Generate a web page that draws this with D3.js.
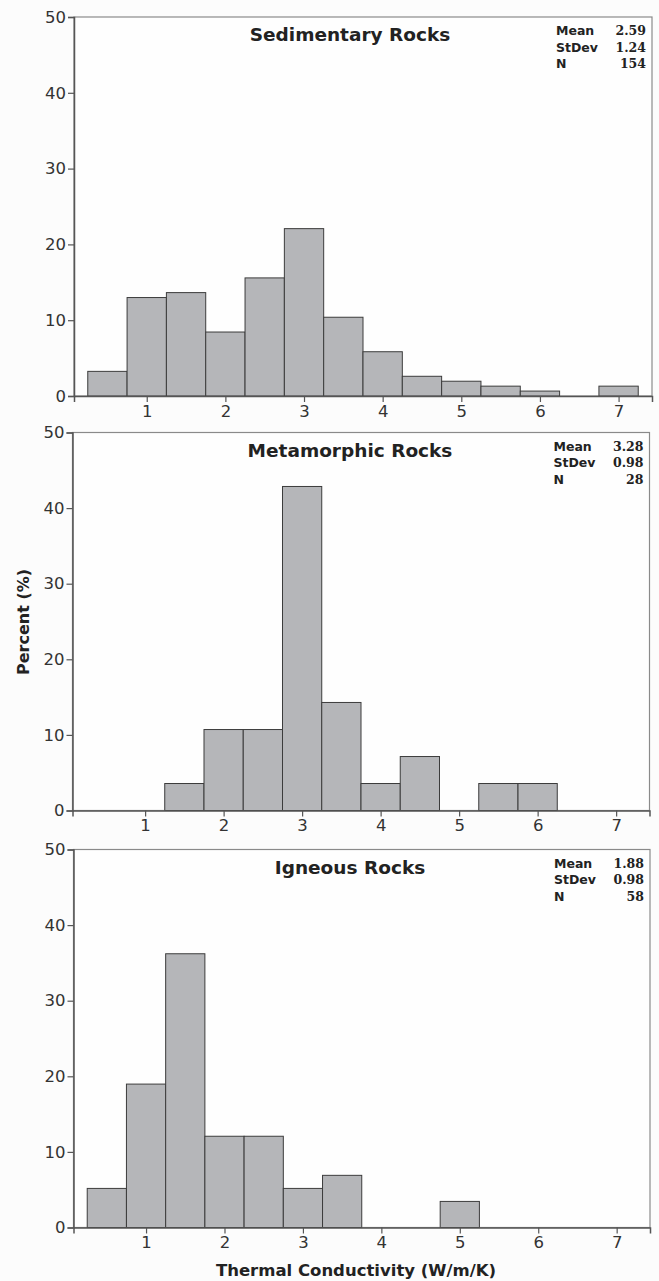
<!DOCTYPE html>
<html>
<head>
<meta charset="utf-8">
<script src="https://cdn.jsdelivr.net/npm/d3@7"></script>
<style>
  body { margin: 0; background: #fcfcfc; }
  svg { display: block; }
</style>
</head>
<body>
<div id="chart"></div>
<script>
// Bin centres (W/m/K), each bin 0.5 wide
const binCenters = [0.5, 1.0, 1.5, 2.0, 2.5, 3.0, 3.5, 4.0, 4.5, 5.0, 5.5, 6.0, 6.5, 7.0];

// Percent per bin
const sedimentary = [3.25, 12.99, 13.64, 8.44, 15.58, 22.08, 10.39, 5.84, 2.60, 1.95, 1.30, 0.65, 0, 1.30];
const metamorphic = [0, 0, 3.57, 10.71, 10.71, 42.86, 14.29, 3.57, 7.14, 0, 3.57, 3.57, 0, 0];
const igneous = [5.17, 18.97, 36.21, 12.07, 12.07, 5.17, 6.90, 0, 0, 3.45, 0, 0, 0, 0];

const titles = ["Sedimentary Rocks", "Metamorphic Rocks", "Igneous Rocks"];
const statLabels = ["Mean", "StDev", "N"];
const statValues = [["2.59", "1.24", "154"], ["3.28", "0.98", "28"], ["1.88", "0.98", "58"]];

const xTicks = [1, 2, 3, 4, 5, 6, 7];
const yTicks = [0, 10, 20, 30, 40, 50];

const width = 659;
const height = 1281;

// where each panel sits on the page
const panels = [
    { left: 74, right: 652, top: 17, bottom: 396 },
    { left: 72.5, right: 649.5, top: 432.5, bottom: 810.5 },
    { left: 73.5, right: 650, top: 849.5, bottom: 1227.5 }
];
const seriesList = [sedimentary, metamorphic, igneous];

const svg = d3.select("#chart")
    .append("svg")
    .attr("width", width)
    .attr("height", height);

svg.append("rect")
    .attr("width", width)
    .attr("height", height)
    .attr("fill", "#fcfcfc");

const textColor = "#333";
const sans = "'DejaVu Sans', Verdana, sans-serif";

panels.forEach((p, i) => {
    const x = d3.scaleLinear().domain([0.075, 7.425]).range([p.left, p.right]);
    const y = d3.scaleLinear().domain([0, 50]).range([p.bottom, p.top]);
    const g = svg.append("g");

    // plot frame (top and right are lighter)
    g.append("rect")
        .attr("x", p.left)
        .attr("y", p.top)
        .attr("width", p.right - p.left)
        .attr("height", p.bottom - p.top)
        .attr("fill", "#fefefe")
        .attr("stroke", "#8a8a8a")
        .attr("stroke-width", 1.2);

    // bars
    const data = binCenters.map((c, k) => ({ c: c, v: seriesList[i][k] })).filter(d => d.v > 0);
    g.selectAll("rect.bar")
        .data(data)
        .join("rect")
        .attr("class", "bar")
        .attr("x", d => x(d.c - 0.25))
        .attr("y", d => y(d.v))
        .attr("width", d => x(d.c + 0.25) - x(d.c - 0.25))
        .attr("height", d => y(0) - y(d.v))
        .attr("fill", "#b5b6b9")
        .attr("stroke", "#3c3c3c")
        .attr("stroke-width", 1);

    // axes
    const xAxis = g.append("g")
        .attr("transform", `translate(0,${p.bottom})`)
        .call(d3.axisBottom(x).tickValues(xTicks).tickSizeOuter(0).tickSize(6).tickPadding(3));
    const yAxis = g.append("g")
        .attr("transform", `translate(${p.left},0)`)
        .call(d3.axisLeft(y).tickValues(yTicks).tickSizeOuter(0).tickSize(6).tickPadding(2));

    [xAxis, yAxis].forEach(a => {
        a.select(".domain").attr("stroke", "#555").attr("stroke-width", 1.5);
        a.selectAll(".tick line").attr("stroke", "#555").attr("stroke-width", 1.2);
        a.selectAll(".tick text")
            .attr("fill", textColor)
            .style("font-family", sans)
            .style("font-size", "16.5px");
    });

    // title
    g.append("text")
        .attr("x", 350)
        .attr("y", p.top + 24)
        .attr("text-anchor", "middle")
        .attr("fill", "#222")
        .style("font-family", sans)
        .style("font-weight", "bold")
        .style("font-size", "18.5px")
        .text(titles[i]);

    // stats box
    statLabels.forEach((lab, k) => {
        g.append("text")
            .attr("x", p.right - 96)
            .attr("y", p.top + 18 + k * 16.5)
            .attr("fill", "#222")
            .style("font-family", sans)
            .style("font-weight", "bold")
            .style("font-size", "12.5px")
            .text(lab);
        g.append("text")
            .attr("x", p.right - 6)
            .attr("y", p.top + 18 + k * 16.5)
            .attr("text-anchor", "end")
            .attr("fill", "#222")
            .style("font-family", "'DejaVu Serif', Georgia, serif")
            .style("font-weight", "bold")
            .style("font-size", "12.5px")
            .text(statValues[i][k]);
    });
});

// y axis label
svg.append("text")
    .attr("transform", "translate(29,622) rotate(-90)")
    .attr("text-anchor", "middle")
    .attr("fill", "#222")
    .style("font-family", sans)
    .style("font-weight", "bold")
    .style("font-size", "16px")
    .text("Percent (%)");

// x axis label
svg.append("text")
    .attr("x", 356)
    .attr("y", 1276)
    .attr("text-anchor", "middle")
    .attr("fill", "#222")
    .style("font-family", sans)
    .style("font-weight", "bold")
    .style("font-size", "16.5px")
    .text("Thermal Conductivity (W/m/K)");
</script>
</body>
</html>
